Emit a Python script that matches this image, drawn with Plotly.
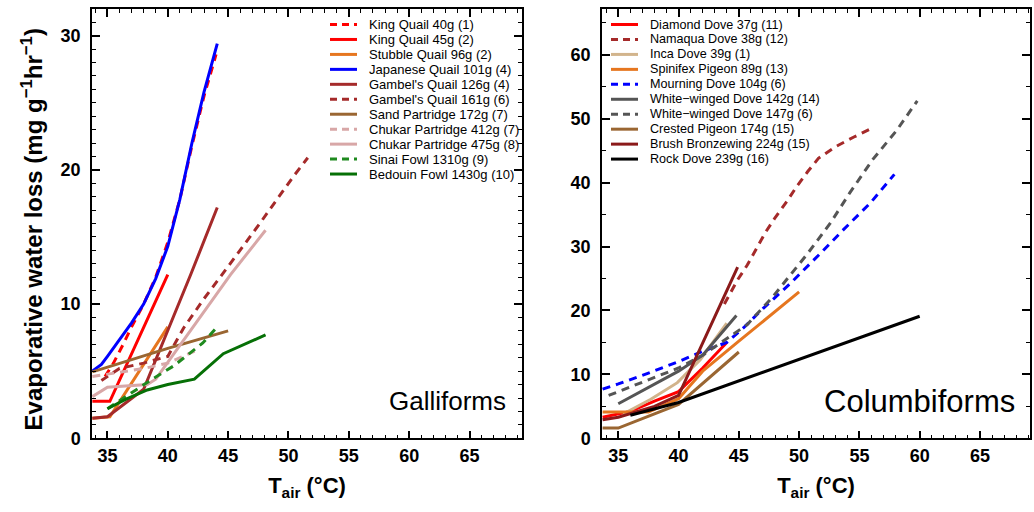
import plotly.graph_objects as go

# ---------------- Galliforms (left panel) ----------------
king_quail_40_t = [34.8, 35.5, 36.3, 37.0, 38.0, 39.0, 40.0, 41.0, 42.0, 43.0, 44.0]
king_quail_40_v = [4.6, 5.6, 7.0, 8.3, 10.0, 12.0, 14.6, 17.8, 21.8, 25.5, 28.6]
king_quail_45_t = [33.75, 35.2, 40.0]
king_quail_45_v = [2.75, 2.75, 12.2]
stubble_quail_t = [33.75, 35.2, 40.0]
stubble_quail_v = [1.5, 1.6, 8.3]
japanese_quail_t = [33.75, 34.5, 35.0, 36.0, 37.0, 38.0, 39.0, 40.0, 41.0, 42.0, 43.0, 44.1]
japanese_quail_v = [5.0, 5.5, 6.1, 7.4, 8.6, 10.0, 11.9, 14.3, 17.8, 22.0, 25.8, 29.4]
gambel_126_t = [33.75, 35.0, 38.0, 41.9, 44.1]
gambel_126_v = [1.5, 1.6, 3.65, 12.2, 17.2]
gambel_161_t = [34.5, 36.0, 38.0, 40.0, 41.3, 43.0, 45.0, 47.7, 50.4, 51.6]
gambel_161_v = [4.3, 5.2, 5.6, 6.1, 8.2, 10.4, 12.8, 16.1, 19.5, 20.9]
sand_partridge_t = [33.75, 40.0, 45.0]
sand_partridge_v = [4.95, 6.7, 8.0]
chukar_412_t = [33.75, 36.0, 38.0, 40.0, 42.5]
chukar_412_v = [4.6, 4.9, 5.2, 5.6, 6.6]
chukar_475_t = [33.75, 35.0, 38.3, 39.0, 45.2, 48.1]
chukar_475_v = [3.1, 3.8, 4.0, 4.4, 12.2, 15.5]
sinai_fowl_t = [35.0, 38.7, 40.5, 42.9, 44.0]
sinai_fowl_v = [2.2, 4.4, 5.4, 7.1, 8.2]
bedouin_fowl_t = [35.0, 36.5, 38.3, 40.0, 42.2, 44.6, 48.1]
bedouin_fowl_v = [2.2, 2.9, 3.6, 4.0, 4.4, 6.3, 7.7]

# ---------------- Columbiforms (right panel) ----------------
diamond_dove_t = [33.7, 36.0, 38.0, 40.0, 42.0, 44.0]
diamond_dove_v = [3.3, 4.2, 5.8, 7.3, 11.0, 15.0]
namaqua_dove_t = [43.8, 44.9, 45.7, 46.5, 47.2, 48.0, 49.0, 49.8, 50.7, 51.6, 53.0, 54.5, 55.8]
namaqua_dove_v = [21.0, 24.8, 27.1, 29.8, 32.2, 34.5, 37.1, 39.4, 41.7, 43.8, 45.6, 47.1, 48.3]
inca_dove_t = [35.4, 37.7, 39.9, 41.8, 44.0]
inca_dove_v = [3.8, 6.1, 8.7, 12.3, 18.0]
spinifex_t = [33.7, 37.5, 40.0, 42.0, 45.0, 50.0]
spinifex_v = [4.1, 4.1, 6.2, 10.5, 15.2, 22.9]
mourning_dove_t = [33.7, 35.0, 37.5, 40.0, 42.0, 44.0, 45.4, 47.0, 49.2, 50.3, 51.7, 53.6, 55.9, 57.9]
mourning_dove_v = [7.7, 8.5, 10.2, 12.0, 13.6, 15.0, 17.3, 20.3, 24.1, 26.1, 28.8, 32.5, 36.8, 41.3]
ww_142_t = [35.0, 40.0, 42.0, 44.8]
ww_142_v = [5.4, 10.5, 13.0, 19.2]
ww_147_t = [34.2, 35.0, 37.0, 40.0, 42.0, 44.3, 45.7, 47.8, 49.5, 50.7, 52.6, 54.2, 56.1, 58.1, 59.8]
ww_147_v = [6.7, 7.3, 8.8, 11.0, 13.0, 16.0, 17.8, 22.1, 26.1, 28.9, 33.7, 38.4, 43.6, 48.2, 52.8]
crested_pigeon_t = [33.7, 35.0, 40.0, 45.0]
crested_pigeon_v = [1.6, 1.6, 5.3, 13.5]
brush_bronzewing_t = [33.7, 35.0, 38.0, 40.0, 44.9]
brush_bronzewing_v = [2.9, 3.3, 5.0, 6.7, 26.8]
rock_dove_t = [36.0, 40.0, 60.0]
rock_dove_v = [3.6, 5.6, 19.1]

x_ticks = [35, 40, 45, 50, 55, 60, 65]

RED = "#ff0000"
ORANGE = "#e6761f"
BLUE = "#0000ff"
BROWNRED = "#a52a2a"
SAND = "#9a6632"
PINK = "#d8a7a7"
GREEN_D = "#1f8a1f"
GREEN = "#067006"
TAN = "#d2b48c"
GRAY = "#555555"
DARKRED = "#8b1a1a"
BLACK = "#000000"
DASH = "8px,6px"

left_series = [
    ("King Quail 40g (1)", king_quail_40_t, king_quail_40_v, RED, DASH),
    ("King Quail 45g (2)", king_quail_45_t, king_quail_45_v, RED, "solid"),
    ("Stubble Quail 96g (2)", stubble_quail_t, stubble_quail_v, ORANGE, "solid"),
    ("Japanese Quail 101g (4)", japanese_quail_t, japanese_quail_v, BLUE, "solid"),
    ("Gambel's Quail 126g (4)", gambel_126_t, gambel_126_v, BROWNRED, "solid"),
    ("Gambel's Quail 161g (6)", gambel_161_t, gambel_161_v, BROWNRED, DASH),
    ("Sand Partridge 172g (7)", sand_partridge_t, sand_partridge_v, SAND, "solid"),
    ("Chukar Partridge 412g (7)", chukar_412_t, chukar_412_v, PINK, DASH),
    ("Chukar Partridge 475g (8)", chukar_475_t, chukar_475_v, PINK, "solid"),
    ("Sinai Fowl 1310g (9)", sinai_fowl_t, sinai_fowl_v, GREEN_D, DASH),
    ("Bedouin Fowl 1430g (10)", bedouin_fowl_t, bedouin_fowl_v, GREEN, "solid"),
]
right_series = [
    ("Diamond Dove 37g (11)", diamond_dove_t, diamond_dove_v, RED, "solid"),
    ("Namaqua Dove 38g (12)", namaqua_dove_t, namaqua_dove_v, BROWNRED, DASH),
    ("Inca Dove 39g (1)", inca_dove_t, inca_dove_v, TAN, "solid"),
    ("Spinifex Pigeon 89g (13)", spinifex_t, spinifex_v, ORANGE, "solid"),
    ("Mourning Dove 104g (6)", mourning_dove_t, mourning_dove_v, BLUE, DASH),
    ("White\u2212winged Dove 142g (14)", ww_142_t, ww_142_v, GRAY, "solid"),
    ("White\u2212winged Dove 147g (6)", ww_147_t, ww_147_v, GRAY, DASH),
    ("Crested Pigeon 174g (15)", crested_pigeon_t, crested_pigeon_v, SAND, "solid"),
    ("Brush Bronzewing 224g (15)", brush_bronzewing_t, brush_bronzewing_v, DARKRED, "solid"),
    ("Rock Dove 239g (16)", rock_dove_t, rock_dove_v, BLACK, "solid"),
]

W, H = 1034, 512
FONT = "Liberation Sans, Arial, sans-serif"
fig = go.Figure()

for name, t, v, c, d in left_series:
    fig.add_trace(go.Scatter(x=t, y=v, mode="lines", name=name, xaxis="x", yaxis="y",
                             line=dict(color=c, width=3, dash=d), showlegend=False))
for name, t, v, c, d in right_series:
    fig.add_trace(go.Scatter(x=t, y=v, mode="lines", name=name, xaxis="x2", yaxis="y2",
                             line=dict(color=c, width=3, dash=d), showlegend=False))

def px(x):
    return x / W

def py(y):
    return 1 - y / H

# legends drawn as text + sample lines
shapes = []
annotations = []
for series, x0, x1, xt, fs in [(left_series, 330, 357, 367, 13), (right_series, 611, 638, 648, 12.6)]:
    for i, (name, t, v, c, d) in enumerate(series):
        yy = 25 + i * 15.25
        shapes.append(dict(type="line", xref="paper", yref="paper", x0=px(x0), x1=px(x1),
                           y0=py(yy), y1=py(yy),
                           line=dict(color=c, width=3, dash=("7px,5px" if d != "solid" else "solid"))))
        annotations.append(dict(text=name, xref="paper", yref="paper", x=px(xt), y=py(yy),
                                xanchor="left", yanchor="middle", showarrow=False,
                                font=dict(size=fs, color="black", family=FONT)))

annotations.append(dict(text="Galliforms", xref="paper", yref="paper", x=px(447), y=py(409),
                        xanchor="center", yanchor="middle", showarrow=False,
                        font=dict(size=26, color="black", family=FONT)))
annotations.append(dict(text="Columbiforms", xref="paper", yref="paper", x=px(919), y=py(409),
                        xanchor="center", yanchor="middle", showarrow=False,
                        font=dict(size=31, color="black", family=FONT)))
annotations.append(dict(text="Evaporative water loss (mg g<sup>\u22121</sup>hr<sup>\u22121</sup>)",
                        xref="paper", yref="paper", x=px(32), y=py(234), textangle=-90,
                        xanchor="center", yanchor="middle", showarrow=False,
                        font=dict(size=24, color="black", family=FONT, weight="bold")))

axis_common = dict(showline=True, linecolor="black", linewidth=1.5, mirror="allticks",
                   ticks="inside", ticklen=8, tickwidth=1.5, tickcolor="black",
                   showgrid=False, zeroline=False,
                   tickfont=dict(size=18, color="black", family=FONT, weight="bold"))

xaxis_common = dict(axis_common, range=[33.72, 69.35], tickvals=x_ticks,
                    minor=dict(ticks="inside", ticklen=4, dtick=1, tickwidth=1.2, tickcolor="black"),
                    title=dict(text="T<sub>air</sub> (°C)", standoff=13,
                               font=dict(size=22, color="black", family=FONT, weight="bold")))

fig.update_layout(
    width=W, height=H,
    margin=dict(l=0, r=0, t=0, b=0),
    paper_bgcolor="white", plot_bgcolor="white",
    font=dict(family=FONT, color="black"),
    xaxis=dict(xaxis_common, domain=[px(92), px(522)], anchor="y"),
    yaxis=dict(axis_common, domain=[py(447), py(9)], anchor="x", range=[0, 32], dtick=10,
               minor=dict(ticks="inside", ticklen=4, dtick=1, tickwidth=1.2, tickcolor="black"),
               ticklabelstandoff=6),
    xaxis2=dict(xaxis_common, domain=[px(602), px(1030)], anchor="y2", range=[33.65, 69.15]),
    yaxis2=dict(axis_common, domain=[py(447), py(9)], anchor="x2", range=[0, 67.2], dtick=10,
                minor=dict(ticks="inside", ticklen=4, dtick=5, tickwidth=1.2, tickcolor="black"),
                ticklabelstandoff=6),
    shapes=shapes,
    annotations=annotations,
)

fig.write_html("out.html")
